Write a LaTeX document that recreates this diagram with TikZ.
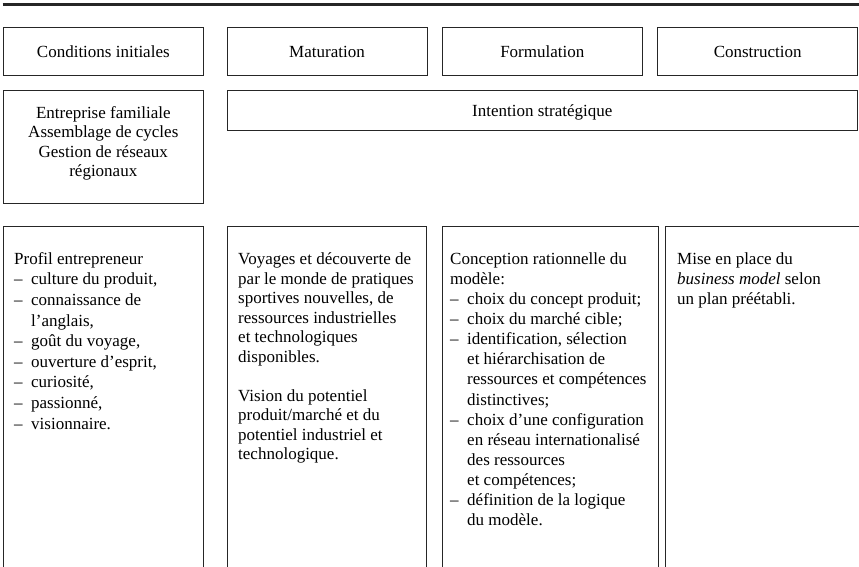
\documentclass[tikz,border=0pt]{standalone}
\usepackage{fontspec}
\setmainfont{Liberation Serif}
% list helpers: dash with hanging indent, and continuation indent
\newcommand\dsh{\makebox[17pt][l]{–}}
\newcommand\cnt{\hspace*{17pt}}
\newcommand\colbox[3]{\parbox[t]{205pt}{\fontsize{17}{#1}\selectfont\raggedright #3}}
\begin{document}
\begin{tikzpicture}[x=1pt,y=-1pt,
  frame/.style={draw=black!85, line width=0.8pt},
  headbox/.style={frame, inner sep=0pt, minimum width=200pt, minimum height=47.7pt,
    text height=12.5pt, text depth=0pt, font=\fontsize{17}{20}\selectfont},
  txt/.style={inner sep=0pt, anchor=base west},
  ctxt/.style={inner sep=0pt, anchor=base}]
\useasboundingbox (0,0) rectangle (859,567);
\clip (0,0) rectangle (859,567);

% heavy rule along the top
\draw[black!85, line width=2.6pt] (2.5,4.3) -- (859,4.3);

% phase headings
\node[headbox] (h1) at (103.3,51.2) {Conditions initiales};
\node[headbox] (h2) at (327.0,51.2) {Maturation};
\node[headbox] (h3) at (542.3,51.2) {Formulation};
\node[headbox] (h4) at (757.7,51.2) {Construction};

% second row
\node[frame, inner sep=0pt, minimum width=200pt, minimum height=112.6pt] (init) at (103.3,147.0) {};
\node[ctxt] (inittxt) at (103.3,118.5) {\parbox[t]{195pt}{\fontsize{17}{19.4}\selectfont\centering
  Entreprise familiale\\ Assemblage de cycles\\ Gestion de réseaux\\ régionaux}};
\node[headbox, minimum width=630.7pt, minimum height=40pt] (intent) at (542.3,110.7) {Intention stratégique};

% bottom columns, open at the foot of the page
\draw[frame] (3.3,570) |- (203.3,226.7) -- (203.3,570);
\draw[frame] (227.0,570) |- (426.7,226.7) -- (426.7,570);
\draw[frame] (442.3,570) |- (658.3,226.7) -- (658.3,570);
\draw[frame] (665.7,570) |- (870,226.7);

\node[txt] (c1) at (14,264.3) {\colbox{20.6pt}{}{Profil entrepreneur\\
  \dsh culture du produit,\\
  \dsh connaissance de\\
  \cnt l’anglais,\\
  \dsh goût du voyage,\\
  \dsh ouverture d’esprit,\\
  \dsh curiosité,\\
  \dsh passionné,\\
  \dsh visionnaire.}};

\node[txt] (c2) at (238,264.8) {\colbox{19.5pt}{}{Voyages et découverte de\\
  par le monde de pratiques\\
  sportives nouvelles, de\\
  ressources industrielles\\
  et technologiques\\
  disponibles.\\[19.5pt]
  Vision du potentiel\\
  produit/marché et du\\
  potentiel industriel et\\
  technologique.}};

\node[txt] (c3) at (450,264.3) {\colbox{20.1pt}{}{Conception rationnelle du\\
  modèle:\\
  \dsh choix du concept produit;\\
  \dsh choix du marché cible;\\
  \dsh identification, sélection\\
  \cnt et hiérarchisation de\\
  \cnt ressources et compétences\\
  \cnt distinctives;\\
  \dsh choix d’une configuration\\
  \cnt en réseau internationalisé\\
  \cnt des ressources\\
  \cnt et compétences;\\
  \dsh définition de la logique\\
  \cnt du modèle.}};

\node[txt] (c4) at (677,264.3) {\colbox{20.1pt}{}{Mise en place du\\
  \textit{business model} selon\\
  un plan préétabli.}};
\end{tikzpicture}
\end{document}
